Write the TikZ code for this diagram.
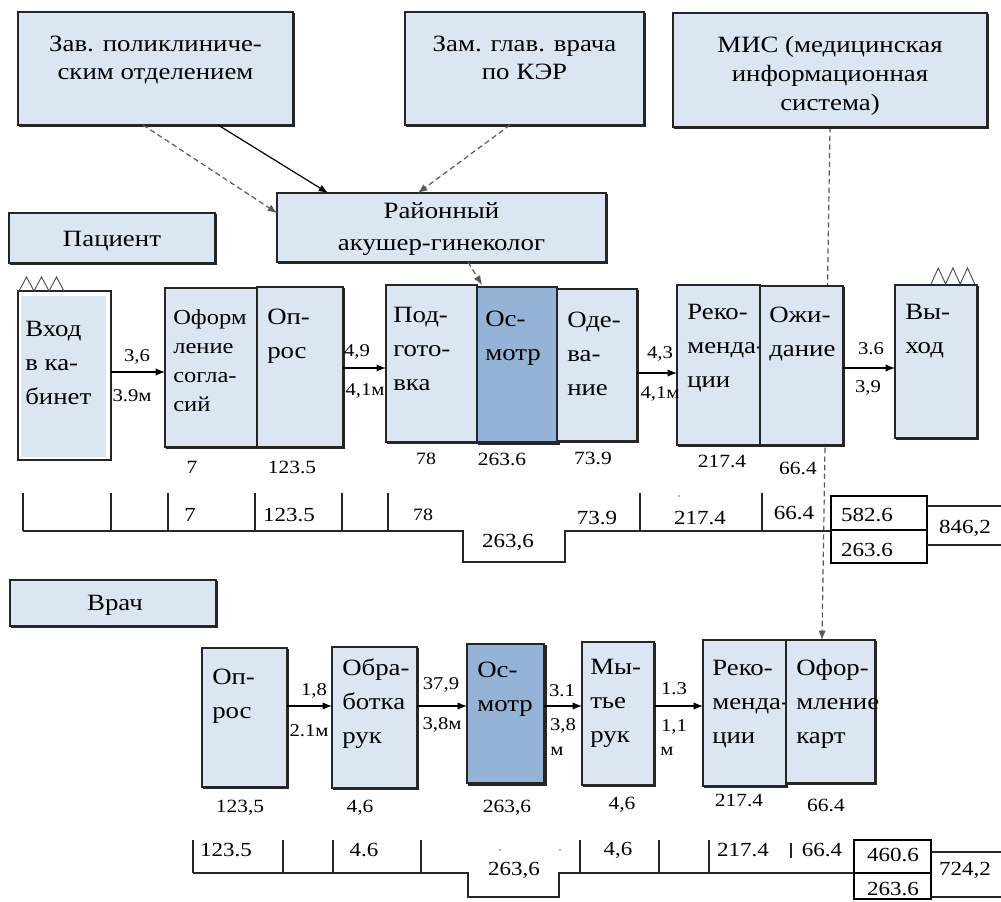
\documentclass[tikz,border=0pt]{standalone}
\usepackage{fontspec}
\setmainfont{Liberation Serif}[FakeStretch=1.15]
\usetikzlibrary{arrows.meta,fit,shadows}
\pgfdeclarelayer{bg}
\pgfsetlayers{bg,main}
\definecolor{lb}{RGB}{220,230,242}
\definecolor{db}{RGB}{149,179,215}
\newcommand\bx[7]{%
  \node[#2, fit={(#3) (#4)}] (#1) {};
  \node[btxt, #7] (#1t) at ([shift={(#5)}]#1.north west) {\strut #6};
}
\begin{document}
\begin{tikzpicture}[x=0.75pt,y=-0.75pt,
  bx/.style={draw=black!85, line width=0.8pt, fill=lb, inner sep=0pt, outer sep=0pt,
     copy shadow={shadow xshift=1.3pt, shadow yshift=-1.3pt}},
  bxd/.style={bx, fill=db, line width=1.3pt},
  vbox/.style={draw=black!85, line width=0.8pt, fill=white, inner sep=0pt, outer sep=0pt,
     path picture={\fill[lb] ([shift={(3,5)}]path picture bounding box.north west) rectangle ([shift={(-5,-3)}]path picture bounding box.south east);}},
  tbox/.style={draw=black, line width=0.8pt, fill=white, inner sep=0pt, outer sep=0pt},
  btxt/.style={anchor=north west, inner sep=0pt, align=left, font=\fontsize{17.5}{25.5}\selectfont},
  ttxt/.style={anchor=north, inner sep=0pt, align=center, font=\fontsize{17.5}{21}\selectfont},
  one/.style={inner sep=0pt, font=\fontsize{17.5}{21}\selectfont},
  lbl/.style={inner sep=0pt, font=\fontsize{13.5}{15}\selectfont},
  num/.style={inner sep=0pt, font=\fontsize{14}{16}\selectfont},
  tnum/.style={inner sep=0pt, font=\fontsize{15}{17}\selectfont},
  tl/.style={line width=0.9pt, draw=black!85},
  arr/.style={-{Latex[length=7pt,width=5.5pt]}, line width=0.9pt},
  dsh/.style={dash pattern=on 4pt off 2.5pt, draw=black!65, line width=0.9pt},
  zig/.style={line width=0.7pt, draw=black!70}
]
\useasboundingbox (0,0) rectangle (1001,902);

% ---------- top boxes ----------
\node[bx, fit={(18,12) (293,125)}] (zav) {};
\node[ttxt] (zavt) at ([shift={(0,20)}]zav.north) {\strut Зав. поликлиниче-\\ским отделением};
\node[bx, fit={(405,12) (644,125)}] (zam) {};
\node[ttxt] (zamt) at ([shift={(0,20)}]zam.north) {\strut Зам. глав. врача\\по КЭР};
\node[bx, fit={(673,13) (987,127)}] (mis) {};
\node[ttxt, font=\fontsize{17.5}{21.75}\selectfont] (mist) at ([shift={(0,19)}]mis.north) {\strut МИС (медицинская\\информационная\\система)};
\node[bx, fit={(277,193) (606,262)}] (raj) {};
\node[ttxt, font=\fontsize{17.5}{24}\selectfont] (rajt) at ([shift={(0,3)}]raj.north) {\strut Районный\\акушер-гинеколог};

\node[bx, fit={(9,213) (215,263)}] (pac) {};
\node[one] (pact) at ([shift={(0,3)}]pac.center) {Пациент};

% ---------- patient row ----------
\node[vbox, fit={(18,291) (111,460)}] (vhod) {};
\node[btxt] (vhodt) at ([shift={(7,21)}]vhod.north west) {\strut Вход\\в ка-\\бинет};
\draw[zig] ([shift={(1,0)}]vhod.north west) -- ++(7.5,-14) -- ++(7.5,14) -- ++(7.5,-14) -- ++(7.5,14) -- ++(7.5,-14) -- ++(7.5,14);

\bx{oform}{bx}{165,288}{257,447}{8,16}{Оформ\\ление\\согла-\\сий}{font=\fontsize{16}{21.75}\selectfont}
\bx{opros}{bx}{257,287}{343,447}{10,13}{Оп-\\рос}{}
\bx{podg}{bx}{386,285}{477,442}{7,13}{Под-\\гото-\\вка}{}
\bx{osma}{bxd}{477,287}{557,442}{8,15}{Ос-\\мотр}{}
\bx{odev}{bx}{557,289}{637,441}{10,14}{Оде-\\ва-\\ние}{}
\bx{reka}{bx}{677,285}{760,445}{10,10}{Реко-\\менда-\\ции}{}
\bx{ozh}{bx}{760,286}{843,445}{9,12}{Ожи-\\дание}{}
\bx{vyh}{bx}{895,285}{977,438}{10,10}{Вы-\\ход}{}
\draw[zig] ([shift={(36,-1)}]vyh.north west) -- ++(7.3,-16) -- ++(7.3,16) -- ++(7.3,-16) -- ++(7.3,16) -- ++(7.3,-16) -- ++(7.3,16);

\draw[arr] (vhod.east |- 0,372) -- (oform.west |- 0,372);
\draw[arr] (opros.east |- 0,368) -- (podg.west |- 0,368);
\draw[arr] (odev.east |- 0,373) -- (reka.west |- 0,373);
\draw[arr] (ozh.east |- 0,368) -- (vyh.west |- 0,368);

\node[lbl] (la1) at (137,357) {3,6};
\node[lbl] (lb1) at (132,396) {3.9м};
\node[lbl] (la2) at (357,352) {4,9};
\node[lbl] (lb2) at (365,391) {4,1м};
\node[lbl] (la3) at (660,354) {4,3};
\node[lbl] (lb3) at (660,394) {4,1м};
\node[lbl] (la4) at (871,349) {3.6};
\node[lbl] (lb4) at (868,388) {3,9};

\node[num] (pn1) at (192,467) {7};
\node[num] (pn2) at (292,467) {123.5};
\node[num, font=\fontsize{13}{15}\selectfont] (pn3) at (426,459) {78};
\node[num] (pn4) at (502,459) {263.6};
\node[num] (pn5) at (593,458) {73.9};
\node[num] (pn6) at (722,461) {217.4};
\node[num] (pn7) at (798,468) {66.4};

% ---------- patient timeline ----------
\draw[tl] (23,531) -- (463,531) -- (463,562) -- (565,562) -- (565,531) -- (831,531);
\foreach \x in {23,111,168,255,342,388,640,762} \draw[tl] (\x,493) -- (\x,531);
\fill[black!60] (679,496) circle (0.8);
\node[tnum] (pt1) at (190,515) {7};
\node[tnum] (pt2) at (289,515) {123.5};
\node[tnum, font=\fontsize{13}{15}\selectfont] (pt3) at (423,515) {78};
\node[tnum] (pt4) at (508,542) {263,6};
\node[tnum] (pt5) at (597,518) {73.9};
\node[tnum] (pt6) at (700,518) {217.4};
\node[tnum] (pt7) at (794,513) {66.4};
\node[tbox, fit={(831,496) (927,530)}] (sa) {};
\node[tbox, fit={(831,530) (927,563)}] (sb) {};
\node[tnum] (sat) at (867,515) {582.6};
\node[tnum] (sbt) at (867,550) {263.6};
\draw[tl] (sa.east |- 0,506) -- (1001,506);
\draw[tl] (sb.east |- 0,545) -- (1001,545);
\node[tnum] (sct) at (965,528) {846,2};

% ---------- doctor ----------
\node[bx, fit={(10,580) (216,626)}] (vr) {};
\node[one] (vrt) at ([shift={(2,2)}]vr.center) {Врач};

\bx{oprosb}{bx}{202,648}{287,787}{10,12}{Оп-\\рос}{}
\bx{obr}{bx}{332,647}{417,788}{10,4}{Обра-\\ботка\\рук}{}
\bx{osmb}{bxd}{467,644}{544,783}{10,9}{Ос-\\мотр}{}
\bx{myt}{bx}{582,642}{654,785}{8,8}{Мы-\\тье\\рук}{}
\bx{rekb}{bx}{703,640}{786,786}{9,11}{Реко-\\менда-\\ции}{}
\bx{ofk}{bx}{786,640}{875,783}{10,11}{Офор-\\мление\\карт}{}

\draw[arr] (oprosb.east |- 0,706) -- (obr.west |- 0,706);
\draw[arr] (obr.east |- 0,706) -- (osmb.west |- 0,706);
\draw[arr] (osmb.east |- 0,706) -- (myt.west |- 0,706);
\draw[arr] (myt.east |- 0,706) -- (rekb.west |- 0,706);

\node[lbl] (da1) at (314,691) {1,8};
\node[lbl] (db1) at (309,731) {2.1м};
\node[lbl] (da2) at (441,685) {37,9};
\node[lbl] (db2) at (442,725) {3,8м};
\node[lbl] (da3) at (562,691) {3.1};
\node[lbl] (db3) at (563,726) {3,8};
\node[lbl] (dc3) at (557,751) {м};
\node[lbl] (da4) at (674,689) {1.3};
\node[lbl] (db4) at (674,727) {1,1};
\node[lbl] (dc4) at (667,751) {м};

\node[num] (dn1) at (240,808) {123,5};
\node[num] (dn2) at (360,808) {4,6};
\node[num] (dn3) at (507,808) {263,6};
\node[num] (dn4) at (622,805) {4,6};
\node[num] (dn5) at (739,800) {217.4};
\node[num] (dn6) at (826,805) {66.4};

% ---------- doctor timeline ----------
\draw[tl] (193,873) -- (468,873) -- (468,897) -- (559,897) -- (559,873) -- (854,873);
\foreach \x in {193,283,333,421,580,659,709} \draw[tl] (\x,840) -- (\x,873);
\draw[tl] (791,843) -- (791,858);
\fill[black!60] (500,850) circle (0.8);
\fill[black!60] (560,850) circle (0.8);
\node[tnum] (dt1) at (226,850) {123.5};
\node[tnum] (dt2) at (364,850) {4.6};
\node[tnum] (dt3) at (514,870) {263,6};
\node[tnum] (dt4) at (618,850) {4,6};
\node[tnum] (dt5) at (743,850) {217.4};
\node[tnum] (dt6) at (822,850) {66.4};
\node[tbox, fit={(854,840) (931,873)}] (ta) {};
\node[tbox, fit={(854,873) (931,899)}] (tb) {};
\node[tnum] (tat) at (893,855) {460.6};
\node[tnum] (tbt) at (893,889) {263.6};
\draw[tl] (ta.east |- 0,852) -- (1001,852);
\draw[tl] (tb.east |- 0,897) -- (1001,897);
\node[tnum] (tct) at (965,870) {724,2};

% ---------- connectors from the top ----------
\draw[dsh, arr] ([shift={(125,0)}]zav.south west) -- ([shift={(0,20)}]raj.north west);
\draw[arr] ([shift={(200,0)}]zav.south west) -- ([shift={(51,0)}]raj.north west);
\draw[dsh, arr] ([shift={(105,0)}]zam.south west) -- ([shift={(141,0)}]raj.north west);
\draw[dsh, arr] ([shift={(191,0)}]raj.south west) -- ([shift={(5,-2)}]osma.north west);
\begin{pgfonlayer}{bg}
\draw[dsh, arr] (mis.south) -- ([shift={(36,0)}]ofk.north west);
\end{pgfonlayer}
\end{tikzpicture}
\end{document}
